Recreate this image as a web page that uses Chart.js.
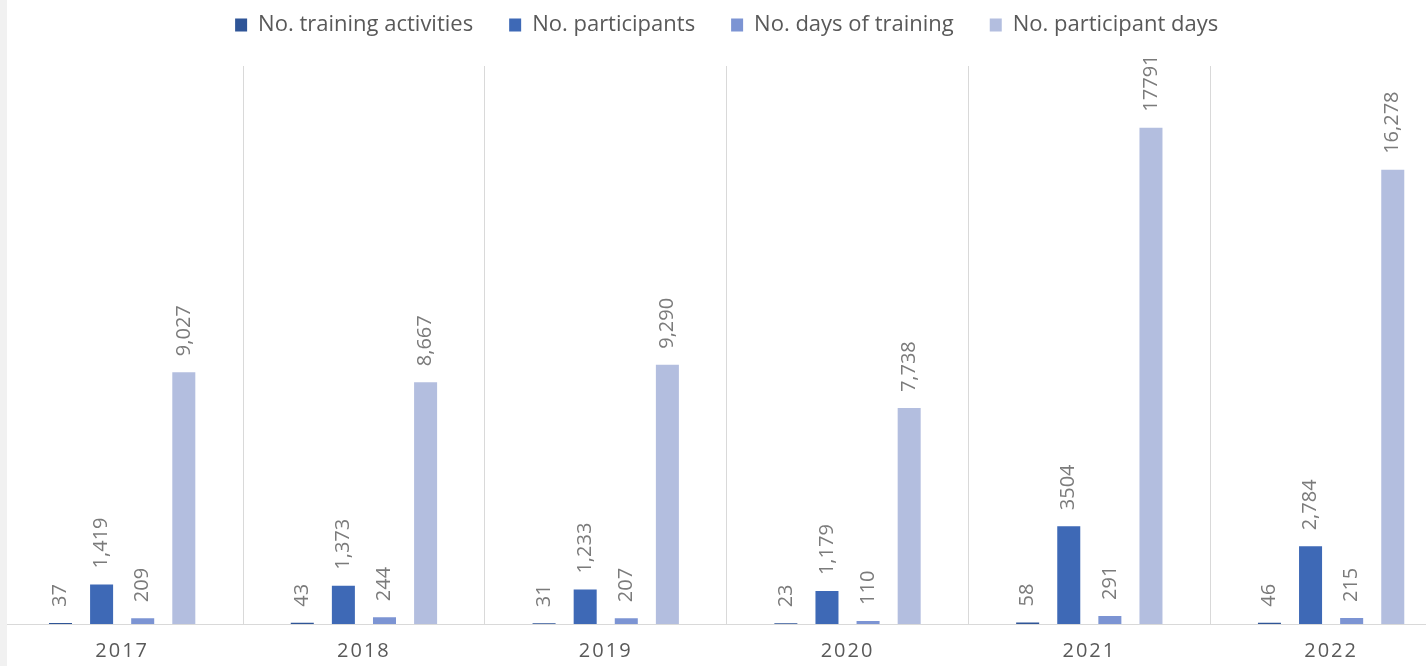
<!DOCTYPE html>
<html>
<head>
<meta charset="utf-8">
<title>Training activities 2017-2022</title>
<script src="https://cdn.jsdelivr.net/npm/chart.js@4.4.1/dist/chart.umd.min.js"></script>
<style>
    html, body { margin: 0; padding: 0; background: #fff; overflow: hidden; }
    #wrap { position: relative; width: 1426px; height: 666px; overflow: hidden; }
    #edge { position: absolute; left: 0; top: 0; width: 7px; height: 666px; background: #f1f1f1; }
</style>
</head>
<body>
<div id="wrap">
    <canvas id="myChart" width="1452" height="666"></canvas>
    <div id="edge"></div>
</div>
<script>
// data
const years = ['2017', '2018', '2019', '2020', '2021', '2022'];
const trainingActivities = [37, 43, 31, 23, 58, 46];
const participants = [1419, 1373, 1233, 1179, 3504, 2784];
const trainingDays = [209, 244, 207, 110, 291, 215];
const participantDays = [9027, 8667, 9290, 7738, 17791, 16278];

const FONT = '"Open Sans", "Noto Sans", sans-serif';

/**
 * Format a label the same way the original does
 * (the 2021 numbers were left without thousands separator)
 */
const formatValue = (value, index) => {
    if (years[index] === '2021') return String(value);
    return value.toLocaleString('en-US');
}

// rotated value labels above every bar
const barLabels = {
    id: 'barLabels',
    afterDatasetsDraw(chart) {
        const ctx = chart.ctx;
        ctx.save();
        ctx.letterSpacing = '0px';
        ctx.font = `20px ${FONT}`;
        ctx.fillStyle = '#7b7b7b';
        ctx.textAlign = 'left';
        ctx.textBaseline = 'middle';
        chart.data.datasets.forEach((dataset, i) => {
            chart.getDatasetMeta(i).data.forEach((bar, j) => {
                ctx.save();
                ctx.translate(bar.x, bar.y - 16);
                ctx.rotate(-Math.PI / 2);
                ctx.fillText(formatValue(dataset.data[j], j), 0, 0);
                ctx.restore();
            });
        });
        ctx.restore();
    }
};

// give the legend a fixed height so the plot starts where it does in the original,
// and keep the spaced out year labels from spacing the legend too
const legendSpace = {
    id: 'legendSpace',
    beforeInit(chart) {
        const fit = chart.legend.fit;
        chart.legend.fit = function () {
            fit.bind(chart.legend)();
            this.height = 88;
        };
        const draw = chart.legend.draw;
        chart.legend.draw = function () {
            const old = chart.ctx.letterSpacing;
            chart.ctx.letterSpacing = '0px';
            draw.bind(chart.legend)();
            chart.ctx.letterSpacing = old;
        };
    },
    beforeDraw(chart) {
        chart.ctx.letterSpacing = '2px';
    },
    beforeDatasetsDraw(chart) {
        chart.ctx.letterSpacing = '0px';
    }
};

const ctx = document.getElementById('myChart').getContext('2d');

const myChart = new Chart(ctx, {
    type: 'bar',
    data: {
        labels: years,
        datasets: [{
            label: 'No. training activities',
            data: trainingActivities,
            backgroundColor: '#2f5597',
        }, {
            label: 'No. participants',
            data: participants,
            backgroundColor: '#3e69b6',
        }, {
            label: 'No. days of training',
            data: trainingDays,
            backgroundColor: '#7c94d3',
        }, {
            label: 'No. participant days',
            data: participantDays,
            backgroundColor: '#b3bedf',
        }]
    },
    options: {
        responsive: false,
        animation: false,
        datasets: {
            bar: {
                categoryPercentage: 0.68,
                barPercentage: 0.56,
            }
        },
        layout: {
            padding: { top: -22, left: 1.25, right: 0, bottom: -12 }
        },
        plugins: {
            legend: {
                position: 'top',
                labels: {
                    boxWidth: 12,
                    boxHeight: 13,
                    padding: 36,
                    color: '#595959',
                    font: { family: FONT, size: 22 },
                }
            },
            tooltip: { enabled: false },
        },
        scales: {
            y: {
                display: false,
                min: 0,
                max: 20000,
            },
            x: {
                grid: {
                    color: '#d9d9d9',
                    drawTicks: false,
                    offset: true,
                },
                border: { color: '#d9d9d9' },
                ticks: {
                    color: '#595959',
                    padding: 15,
                    font: { family: FONT, size: 20 },
                }
            }
        }
    },
    plugins: [barLabels, legendSpace]
});
</script>
</body>
</html>
